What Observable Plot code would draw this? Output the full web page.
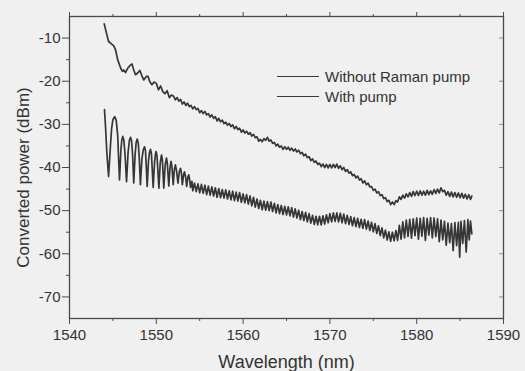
<!DOCTYPE html>
<html><head><meta charset="utf-8">
<script src="https://cdn.jsdelivr.net/npm/d3@7"></script>
<script src="https://cdn.jsdelivr.net/npm/@observablehq/plot@0.6"></script>
<style>
html,body{margin:0;padding:0;background:#f0f0f0;}
#wrap{position:relative;width:525px;height:371px;font-family:"Liberation Sans",Arial,sans-serif;color:#333;}
.legend{position:absolute;left:277px;top:67px;font-size:15px;line-height:19.5px;color:#333;}
.legend div{display:flex;align-items:center;height:19.5px;}
.legend .sw{display:inline-block;width:42px;height:0;border-top:1.4px solid #3a3a3a;margin-right:6px;}
</style></head><body><div id="wrap"></div>
<script>
// Series names
const seriesNames = ["Without Raman pump", "With pump"];
// Axis ticks
const xMajor = [1540, 1550, 1560, 1570, 1580, 1590];
const xMinor = [1545, 1555, 1565, 1575, 1585];
const yMajor = [-70, -60, -50, -40, -30, -20, -10];
const yMinor = [-65, -55, -45, -35, -25, -15];
const xTitle = "Wavelength (nm)";
const yTitle = "Converted power (dBm)";

// [wavelength nm, power dBm]
const withoutRamanPump = [
[1544.0,-6.7],[1544.25,-8.8],[1544.5,-10.8],[1544.8,-11.3],[1545.1,-11.8],[1545.3,-12.7],[1545.55,-15.0],[1545.9,-17.0],
[1546.1,-17.7],[1546.25,-17.4],[1546.45,-18.0],[1546.7,-17.0],[1546.95,-16.4],[1547.2,-16.0],[1547.4,-17.4],[1547.6,-18.5],
[1547.85,-18.1],[1548.1,-17.5],[1548.35,-18.8],[1548.55,-19.7],[1548.85,-18.9],[1549.05,-18.9],[1549.25,-20.1],[1549.5,-20.8],
[1549.75,-20.2],[1550.0,-20.5],[1550.25,-22.0],[1550.5,-21.1],[1550.75,-22.4],[1551.0,-22.9],[1551.25,-22.2],[1551.5,-23.8],
[1551.75,-23.2],
[1552.0,-23.5],[1552.2,-24.3],[1552.4,-23.8],[1552.6,-24.6],[1552.8,-24.2],[1553.0,-25.3],[1553.2,-24.8],[1553.4,-25.6],
[1553.6,-25.1],[1553.8,-25.9],[1554.0,-25.6],[1554.2,-26.4],[1554.4,-25.9],[1554.6,-26.6],[1554.8,-26.3],[1555.0,-27.3],
[1555.2,-26.8],[1555.4,-27.5],[1555.6,-27.0],[1555.8,-27.8],[1556.0,-27.5],[1556.2,-28.3],[1556.4,-27.8],[1556.6,-28.6],
[1556.8,-28.2],[1557.0,-29.2],[1557.2,-28.6],[1557.4,-29.4],[1557.6,-29.0],[1557.8,-29.8],[1558.0,-29.5],[1558.2,-30.2],
[1558.4,-29.8],[1558.6,-30.5],[1558.8,-30.1],[1559.0,-31.0],[1559.2,-30.5],[1559.4,-31.2],[1559.6,-30.9],[1559.8,-31.8],
[1560.0,-31.3],[1560.2,-32.0],[1560.4,-31.6],[1560.6,-32.3],[1560.8,-31.9],[1561.0,-32.7],[1561.2,-32.3],[1561.4,-33.1],
[1561.6,-32.9],[1561.8,-33.9],[1562.0,-33.5],[1562.2,-34.0],[1562.4,-33.3],[1562.6,-33.7],[1562.8,-33.0],[1563.0,-33.9],
[1563.2,-33.6],[1563.4,-34.4],[1563.6,-34.2],[1563.8,-35.0],[1564.0,-34.6],[1564.2,-35.3],[1564.4,-35.0],[1564.6,-35.8],
[1564.8,-35.2],[1565.0,-35.8],[1565.2,-35.3],[1565.4,-36.0],[1565.6,-35.5],[1565.8,-36.2],[1566.0,-35.7],[1566.2,-36.4],
[1566.4,-36.0],[1566.6,-36.8],[1566.8,-36.5],[1567.0,-37.3],[1567.2,-36.9],[1567.4,-37.7],[1567.6,-37.5],[1567.8,-38.4],
[1568.0,-38.0],[1568.2,-38.8],[1568.4,-38.5],[1568.6,-39.3],[1568.8,-39.0],[1569.0,-39.8],[1569.2,-39.2],[1569.4,-40.0],
[1569.6,-39.3],[1569.8,-40.1],[1570.0,-39.3],[1570.2,-40.1],[1570.4,-39.3],[1570.6,-40.0],[1570.8,-39.2],[1571.0,-40.2],
[1571.2,-39.6],[1571.4,-40.5],[1571.6,-40.0],[1571.8,-40.9],[1572.0,-40.5],[1572.2,-41.3],[1572.4,-41.0],[1572.6,-41.9],
[1572.8,-41.6],[1573.0,-42.4],[1573.2,-42.0],[1573.4,-42.9],[1573.6,-42.6],[1573.8,-43.6],[1574.0,-43.1],[1574.2,-44.0],
[1574.4,-43.6],[1574.6,-44.5],[1574.8,-44.4],[1575.0,-45.3],[1575.2,-45.0],[1575.4,-45.9],[1575.6,-45.6],[1575.8,-46.5],
[1576.0,-46.3],[1576.2,-47.2],[1576.4,-47.0],[1576.6,-47.9],[1576.8,-47.6],[1577.0,-48.6],[1577.2,-48.0],[1577.4,-48.6],
[1577.6,-47.7],[1577.8,-48.0],[1578.0,-46.8],[1578.2,-47.4],[1578.4,-46.4],[1578.6,-47.1],[1578.8,-46.1],[1579.0,-46.8],
[1579.2,-45.8],[1579.4,-46.7],[1579.6,-45.6],[1579.8,-46.5],[1580.0,-45.5],[1580.2,-46.5],[1580.4,-45.4],[1580.6,-46.4],
[1580.8,-45.5],[1581.0,-46.4],[1581.2,-45.3],[1581.4,-46.3],[1581.6,-45.4],[1581.8,-46.2],[1582.0,-45.1],[1582.2,-46.0],
[1582.4,-45.0],[1582.6,-45.9],[1582.8,-44.7],[1583.0,-45.6],[1583.2,-45.3],[1583.4,-46.4],[1583.6,-45.6],[1583.8,-46.7],
[1584.0,-45.7],[1584.2,-46.8],[1584.4,-45.8],[1584.6,-46.9],[1584.8,-45.9],[1585.0,-47.0],[1585.2,-46.0],[1585.4,-47.1],
[1585.6,-46.2],[1585.8,-47.3],[1586.0,-46.3],[1586.2,-47.4],[1586.35,-46.6]
];

const withPump = [
[1544.03,-26.6],[1544.15,-30.5],[1544.3,-36.5],[1544.5,-42.1],[1544.7,-35.5],[1544.85,-31.0],[1545.0,-28.9],[1545.2,-28.2],
[1545.38,-29.0],[1545.55,-32.5],[1545.76,-42.9],[1545.92,-36.0],[1546.03,-33.6],[1546.14,-32.8],[1546.26,-33.6],[1546.4,-37.0],
[1546.57,-43.3],[1546.75,-36.5],[1546.9,-33.7],[1547.03,-33.0],[1547.15,-33.8],[1547.27,-37.0],[1547.4,-43.6],[1547.56,-37.0],
[1547.68,-34.2],[1547.8,-33.4],[1547.92,-34.3],[1548.03,-37.5],[1548.17,-44.0],[1548.34,-38.0],[1548.5,-35.9],[1548.64,-35.2],
[1548.76,-36.2],[1548.95,-44.4],[1549.1,-38.5],[1549.22,-36.5],[1549.33,-35.8],[1549.44,-36.8],[1549.64,-44.6],[1549.8,-38.8],
[1549.9,-37.0],[1549.98,-36.3],[1550.08,-37.3],[1550.3,-44.8],[1550.45,-39.0],[1550.6,-37.1],[1550.7,-38.2],[1550.86,-44.8],
[1551.02,-39.5],[1551.17,-37.8],[1551.27,-39.0],[1551.44,-44.3],[1551.58,-40.0],[1551.7,-38.6],[1551.8,-39.8],[1551.95,-44.0],
[1552.08,-40.5],[1552.2,-39.4],[1552.32,-40.6],[1552.5,-43.6],[1552.65,-41.0],[1552.8,-40.2],[1552.9,-41.4],[1553.0,-44.0],
[1553.15,-41.6],[1553.25,-41.0],[1553.38,-42.2],[1553.5,-44.4],[1553.64,-42.2],[1553.74,-41.7],[1553.84,-42.8],[1553.94,-44.6],
[1554.1,-43.2],[1554.2,-45.4],[1554.4,-43.6],[1554.6,-45.6],[1554.8,-43.8],[1555.0,-45.9],[1555.2,-43.9],[1555.4,-46.0],
[1555.6,-44.1],[1555.8,-46.3],[1556.0,-44.3],[1556.2,-46.4],[1556.4,-44.5],[1556.6,-46.6],[1556.8,-44.7],[1557.0,-46.9],
[1557.2,-44.9],[1557.4,-47.0],[1557.6,-45.1],[1557.8,-47.1],[1558.0,-45.2],[1558.2,-47.3],[1558.4,-45.4],[1558.6,-47.5],
[1558.8,-45.5],[1559.0,-47.7],[1559.2,-45.7],[1559.4,-47.8],[1559.6,-45.8],[1559.8,-48.1],[1560.0,-46.1],[1560.2,-48.2],
[1560.4,-46.3],[1560.6,-48.5],[1560.8,-46.6],[1561.0,-48.9],[1561.2,-46.9],[1561.4,-49.2],[1561.6,-47.3],[1561.8,-49.5],
[1562.0,-47.6],[1562.2,-49.8],[1562.4,-47.8],[1562.6,-49.9],[1562.8,-47.9],[1563.0,-50.0],[1563.2,-48.0],[1563.4,-50.2],
[1563.6,-48.3],[1563.8,-50.5],[1564.0,-48.6],[1564.2,-50.7],[1564.4,-48.8],[1564.6,-50.9],[1564.8,-49.0],[1565.0,-51.0],
[1565.2,-49.1],[1565.4,-51.2],[1565.6,-49.3],[1565.8,-51.5],[1566.0,-49.6],[1566.2,-51.7],[1566.4,-49.9],[1566.6,-52.1],
[1566.8,-50.2],[1567.0,-52.3],[1567.2,-50.4],[1567.4,-52.6],[1567.6,-50.7],[1567.8,-52.9],[1568.0,-51.1],[1568.2,-53.2],
[1568.4,-51.3],[1568.6,-53.3],[1568.8,-51.3],[1569.0,-53.3],[1569.2,-51.2],[1569.4,-53.1],[1569.6,-51.0],[1569.8,-52.8],
[1570.0,-50.7],[1570.2,-52.6],[1570.4,-50.5],[1570.6,-52.5],[1570.8,-50.5],[1571.0,-52.6],[1571.2,-50.6],[1571.4,-52.8],
[1571.6,-50.8],[1571.8,-53.0],[1572.0,-51.1],[1572.2,-53.2],[1572.4,-51.4],[1572.6,-53.5],[1572.8,-51.6],[1573.0,-53.7],
[1573.2,-51.8],[1573.4,-53.9],[1573.6,-52.0],[1573.8,-54.1],[1574.0,-52.1],[1574.2,-54.3],[1574.4,-52.4],[1574.6,-54.6],
[1574.8,-52.7],[1575.0,-54.9],[1575.2,-53.0],[1575.4,-55.3],[1575.6,-53.5],[1575.8,-55.8],[1576.0,-54.0],[1576.2,-56.3],
[1576.4,-54.5],[1576.6,-56.8],[1576.8,-54.9],[1577.0,-57.1],[1577.2,-55.0],[1577.4,-57.0],[1577.6,-54.6],[1577.8,-56.9],
[1578.0,-53.4],[1578.2,-56.6],[1578.4,-52.6],[1578.6,-56.3],[1578.8,-52.2],[1579.0,-56.0],[1579.2,-52.0],[1579.4,-56.4],
[1579.6,-51.9],[1579.8,-55.8],[1580.0,-51.7],[1580.2,-56.6],[1580.4,-51.8],[1580.6,-55.9],[1580.8,-51.6],[1581.0,-56.9],
[1581.2,-51.8],[1581.4,-55.7],[1581.6,-51.6],[1581.8,-56.3],[1582.0,-51.7],[1582.2,-56.0],[1582.4,-51.9],[1582.6,-57.2],
[1582.8,-52.2],[1583.0,-56.8],[1583.2,-52.5],[1583.4,-58.0],[1583.6,-52.9],[1583.8,-57.4],[1584.0,-53.0],[1584.2,-59.3],
[1584.4,-52.8],[1584.6,-58.1],[1584.8,-52.7],[1584.95,-60.8],[1585.1,-52.5],[1585.3,-57.6],[1585.5,-52.3],[1585.7,-59.6],
[1585.9,-52.1],[1586.05,-56.8],[1586.2,-52.4],[1586.35,-55.4]
];

const rows = [
  ...withoutRamanPump.map(([w, p]) => ({w, p, s: seriesNames[0]})),
  ...withPump.map(([w, p]) => ({w, p, s: seriesNames[1]}))
];

const axisColor = "#4a4a4a";
const chart = Plot.plot({
  width: 525, height: 371,
  marginLeft: 69, marginRight: 22, marginTop: 16, marginBottom: 53,
  style: {background: "#f0f0f0", fontFamily: "'Liberation Sans', Arial, sans-serif", fontSize: "15px", color: "#333"},
  x: {domain: [1540, 1590]},
  y: {domain: [-75, -5]},
  marks: [
    Plot.frame({stroke: axisColor, strokeWidth: 1.3}),
    Plot.axisX({anchor: "bottom", ticks: xMajor, tickSize: 6, tickPadding: 5, tickFormat: d => String(d), label: null, stroke: axisColor, fontSize: 15}),
    Plot.axisX({anchor: "bottom", ticks: xMinor, tickSize: 3, tickFormat: () => "", label: null, stroke: axisColor}),
    Plot.axisX({anchor: "top", ticks: xMajor, tickSize: 5, tickFormat: () => "", label: null, stroke: axisColor}),
    Plot.axisX({anchor: "top", ticks: xMinor, tickSize: 3, tickFormat: () => "", label: null, stroke: axisColor}),
    Plot.axisY({anchor: "left", ticks: yMajor, tickSize: 7, tickPadding: 2, tickFormat: d => String(d), label: null, stroke: axisColor, fontSize: 15}),
    Plot.axisY({anchor: "left", ticks: yMinor, tickSize: 3, tickFormat: () => "", label: null, stroke: axisColor}),
    Plot.ruleY(yMajor, {x1: 1589.55, x2: 1590, stroke: "#888"}),
    Plot.line(rows, {x: "w", y: "p", z: "s", stroke: "#363636", strokeWidth: 1.7, curve: "linear", strokeLinejoin: "round"}),
    Plot.text([xTitle], {frameAnchor: "bottom", dy: 49, lineAnchor: "bottom", fontSize: 18, fill: "#333"}),
    Plot.text([yTitle], {frameAnchor: "left", rotate: -90, dx: -46, dy: 10, textAnchor: "middle", lineAnchor: "middle", fontSize: 17, fill: "#333"})
  ]
});
const wrap = document.getElementById("wrap");
wrap.appendChild(chart);
const legend = document.createElement("div");
legend.className = "legend";
legend.innerHTML = seriesNames.map(n => `<div><span class="sw"></span><span>${n}</span></div>`).join("");
wrap.appendChild(legend);
</script></body></html>
